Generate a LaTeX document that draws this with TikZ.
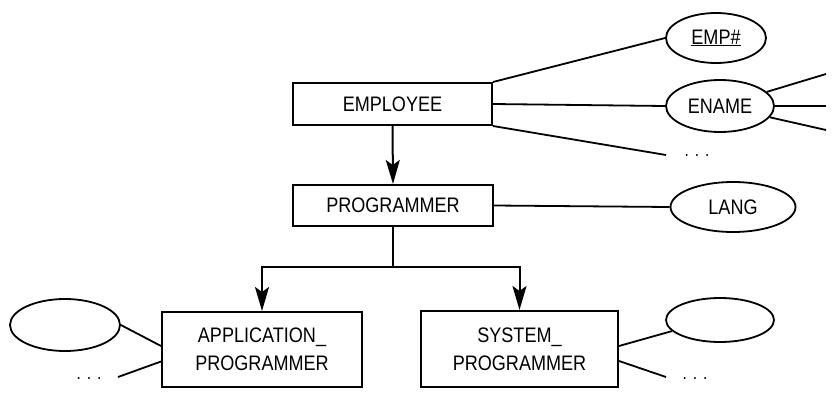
\documentclass[tikz,border=0pt]{standalone}
\usepackage{fontspec}
\setmainfont{Liberation Sans}[FakeStretch=0.86]
\usetikzlibrary{arrows.meta,calc,shapes.geometric}

\tikzset{
  entity/.style={draw, line width=2pt, rectangle, inner sep=0pt, align=center,
                 font=\fontsize{21}{28}\selectfont},
  attr/.style={draw, line width=1.8pt, ellipse, inner sep=0pt,
               font=\fontsize{21}{24}\selectfont},
  link/.style={line width=1.8pt},
  isa/.style={line width=2pt, -{Stealth[length=24pt,width=14pt,inset=5pt]}},
  more/.style={font=\fontsize{18}{22}\selectfont, inner sep=0pt}
}
\newcommand{\moredots}{.\hspace{6pt}.\hspace{6pt}.}

\begin{document}
\begin{tikzpicture}[x=1pt,y=-1pt]
  \useasboundingbox (0,0) rectangle (836,394);

  % entity boxes
  \node[entity, minimum width=199pt, minimum height=42pt] (employee) at (392.5,104) {EMPLOYEE};
  \node[entity, minimum width=200pt, minimum height=41pt] (programmer) at (393,205.5) {PROGRAMMER};
  \node[entity, minimum width=200pt, minimum height=75pt] (app) at (262,349.5) {APPLICATION\_\\PROGRAMMER};
  \node[entity, minimum width=197pt, minimum height=76pt] (sys) at (519.5,349) {SYSTEM\_\\PROGRAMMER};

  % attribute ellipses
  \node[attr, minimum width=100pt, minimum height=50pt] (empno) at (716,38) {\underline{EMP\#}};
  \node[attr, minimum width=108pt, minimum height=52pt] (ename) at (720,106) {ENAME};
  \node[attr, minimum width=125pt, minimum height=50pt] (lang) at (733,207) {LANG};
  \node[attr, minimum width=110pt, minimum height=52pt] (appattr) at (65,325) {};
  \node[attr, minimum width=108pt, minimum height=44pt] (sysattr) at (720,320) {};

  % loose line ends and ellipsis marks
  \coordinate (empmore) at (666,155);
  \node[more] (empdots) at (697,156) {\moredots};
  \coordinate (en1) at (826,74);
  \coordinate (en2) at (826,106);
  \coordinate (en3) at (826,130);
  \coordinate (appmore) at (118,377);
  \node[more] (appdots) at (89,379) {\moredots};
  \coordinate (sysmore) at (666,377);
  \node[more] (sysdots) at (695,379) {\moredots};
  \coordinate (fork) at (393,267);

  % attribute links
  \draw[link] (employee.north east) -- (empno.west);
  \draw[link] (employee.east) -- (ename.west);
  \draw[link] (employee.south east) -- (empmore);
  \draw[link] (ename) -- (en1);
  \draw[link] (ename.east) -- (en2);
  \draw[link] (ename) -- (en3);
  \draw[link] (programmer.east) -- (lang.west);
  \draw[link] ([yshift=3.5pt]app.west) -- (appattr.east);
  \draw[link] ([yshift=-12pt]app.west) -- (appmore);
  \draw[link] ([yshift=3pt]sys.east) -- (sysattr.193);
  \draw[link] ([yshift=-12pt]sys.east) -- (sysmore);

  % subtype hierarchy
  \draw[isa] (employee.south) -- (programmer.north);
  \draw[line width=2pt] (programmer.south) -- (fork);
  \draw[isa] (fork) -| (app.north);
  \draw[isa] (fork) -| (sys.north);
\end{tikzpicture}
\end{document}
